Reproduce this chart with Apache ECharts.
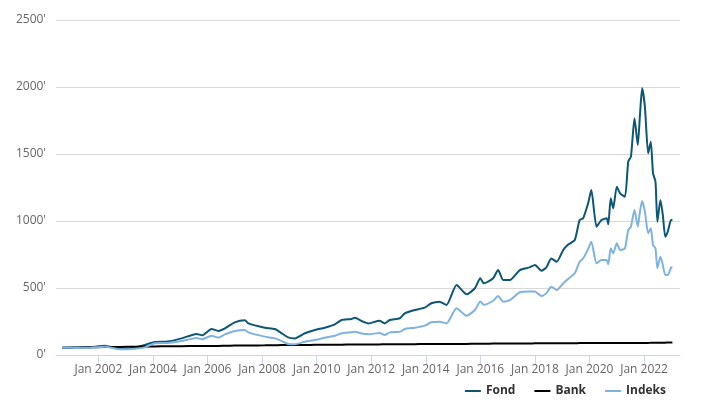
<!DOCTYPE html>
<html>
<head>
<meta charset="utf-8">
<script src="https://cdn.jsdelivr.net/npm/echarts@6/dist/echarts.min.js"></script>
<style>
html,body{margin:0;padding:0;background:#fff;}
#chart{width:728px;height:405px;}
</style>
</head>
<body>
<div id="chart"></div>
<script>
const dates = [
'2000-09-01','2001-02-24','2001-08-15','2002-04-01','2002-10-20','2003-05-08','2003-09-13','2004-01-26','2004-07-19','2005-01-19',
'2005-08-08','2005-10-20','2006-02-24','2006-05-27','2006-08-22','2007-01-01','2007-05-16','2007-07-02','2008-02-07','2008-06-21',
'2008-09-20','2008-12-16','2009-03-15','2009-07-27','2009-12-09','2010-04-20','2010-09-02','2010-12-02','2011-04-13','2011-05-27',
'2011-08-26','2011-11-25','2012-04-20','2012-07-01','2012-09-05','2013-01-19','2013-03-26','2013-08-08','2013-12-17','2014-03-15',
'2014-07-02','2014-10-05','2015-02-17','2015-07-02','2015-10-20','2016-01-01','2016-02-17','2016-06-21','2016-08-26','2016-11-03',
'2017-01-30','2017-06-13','2017-10-20','2018-01-01','2018-03-29','2018-06-03','2018-08-08','2018-10-20','2019-01-15','2019-03-15',
'2019-06-18','2019-08-22','2019-10-08','2019-12-13','2020-01-26','2020-04-05','2020-06-10','2020-08-18','2020-09-09','2020-10-12',
'2020-11-14','2021-01-01','2021-02-14','2021-04-20','2021-06-03','2021-07-09','2021-08-26','2021-10-09','2021-11-07','2021-12-06',
'2022-01-12','2022-02-25','2022-04-01','2022-05-01','2022-06-03','2022-06-28','2022-08-08','2022-09-09','2022-10-12','2022-11-14',
'2022-12-28','2023-01-15'
];
const fond = [
54,56,57,69,45,54,75,97,100,124,
157,147,194,180,199,244,259,236,204,194,
162,132,124,162,187,204,229,261,269,278,
254,236,255,236,261,274,311,336,353,386,
398,373,522,453,498,572,535,572,634,560,
560,634,654,672,629,654,721,696,784,821,
858,1007,1020,1130,1231,958,1007,1020,975,1169,
1095,1256,1207,1181,1443,1480,1766,1567,1791,1990,
1853,1505,1592,1356,1293,995,1157,1045,883,920,
1007,1007
];
const bank = [
54,55,57,59,60,62,63,64,65,66,
67,67,68,68,69,70,70,71,72,73,
74,74,75,75,76,76,77,77,78,78,
78,79,79,80,80,80,81,81,82,82,
82,83,83,83,84,84,84,85,85,85,
86,86,86,87,87,87,87,88,88,88,
88,89,89,89,89,89,89,89,89,89,
89,90,90,90,90,90,90,90,90,90,
90,90,91,91,91,91,92,92,92,93,
93,94
];
const indeks = [
54,53,54,62,42,47,57,87,90,104,
127,117,144,130,154,179,187,169,137,124,
104,82,80,99,112,129,144,162,170,174,
160,154,165,149,169,174,194,204,219,244,
249,236,348,293,336,400,375,405,440,398,
410,468,473,473,440,460,510,485,535,565,
610,696,720,790,846,684,709,709,677,796,
759,834,784,796,933,958,1082,958,1070,1149,
1070,908,945,821,796,647,734,672,597,597,
652,655
];
const seriesNames = ['Fond','Bank','Indeks'];
const tickLabels = ['Jan 2002','Jan 2004','Jan 2006','Jan 2008','Jan 2010','Jan 2012','Jan 2014','Jan 2016','Jan 2018','Jan 2020','Jan 2022'];
const xRange = ['2000-06-13','2023-04-27'];

const tickValues = tickLabels.map(l => Date.UTC(parseInt(l.slice(4),10),0,1));
const pair = arr => dates.map((d,i) => [Date.parse(d), arr[i]]);

const chart = echarts.init(document.getElementById('chart'), null, {renderer:'canvas'});
const font = '"Open Sans", "Noto Sans", sans-serif';
chart.setOption({
  animation:false,
  backgroundColor:'#ffffff',
  textStyle:{fontFamily:font},
  grid:{left:56,right:48,top:20,bottom:50},
  legend:{
    data:seriesNames,
    right:57,
    bottom:3,
    icon:'rect',
    itemWidth:16,
    itemHeight:2,
    itemGap:19,
    textStyle:{color:'#333333',fontSize:12,fontWeight:'bold',fontFamily:font}
  },
  xAxis:{
    type:'value',
    min:Date.parse(xRange[0]),
    max:Date.parse(xRange[1]),
    axisLine:{lineStyle:{color:'#ccd6eb',width:1}},
    axisTick:{show:true,length:10,customValues:tickValues,lineStyle:{color:'#ccd6eb'}},
    axisLabel:{
      customValues:tickValues,
      margin:9,
      color:'#666666',
      fontSize:12,
      fontFamily:font,
      formatter:function(v){
        const idx = tickValues.indexOf(+v);
        return idx >= 0 ? tickLabels[idx] : '';
      }
    },
    splitLine:{show:false}
  },
  yAxis:{
    type:'value',
    min:0,
    max:2500,
    interval:500,
    axisLine:{show:false},
    axisTick:{show:false},
    axisLabel:{color:'#666666',fontSize:12,margin:10,fontFamily:font,formatter:function(v){return v+"'";}},
    splitLine:{lineStyle:{color:'#d8d8d8',width:1}}
  },
  series:[
    {name:seriesNames[0],type:'line',data:pair(fond),showSymbol:false,smooth:0.2,lineStyle:{width:2,color:'#0e5676'},itemStyle:{color:'#0e5676'}},
    {name:seriesNames[1],type:'line',data:pair(bank),showSymbol:false,smooth:0.2,lineStyle:{width:2,color:'#000000'},itemStyle:{color:'#000000'}},
    {name:seriesNames[2],type:'line',data:pair(indeks),showSymbol:false,smooth:0.2,lineStyle:{width:2,color:'#7eb2e2'},itemStyle:{color:'#7eb2e2'}}
  ]
});
</script>
</body>
</html>
